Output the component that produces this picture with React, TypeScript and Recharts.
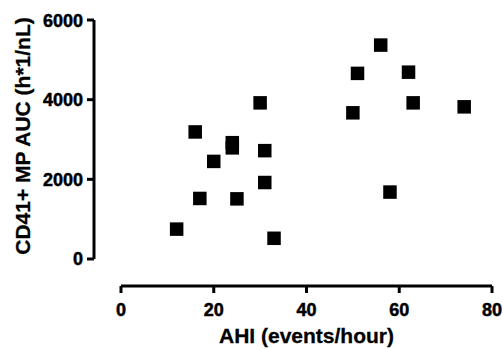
import { ScatterChart, Scatter, XAxis, YAxis, ReferenceLine, Label } from 'recharts';

// AHI (events/hour) vs CD41+ MP AUC
const ahi = [12, 16, 17, 20, 24, 24, 25, 30, 31, 31, 33, 50, 51, 56, 58, 62, 63, 74];
const auc = [750, 3190, 1520, 2450, 2920, 2790, 1510, 3920, 2720, 1920, 520, 3670, 4660, 5370, 1680, 4690, 3920, 3820];

const xTicks = [0, 20, 40, 60, 80];
const yTicks = [0, 2000, 4000, 6000];

// offset axes (Prism style): domain starts a bit below zero
const xMin = -5.82;
const yMin = -678;

const data = ahi.map((x, i) => ({ x, y: auc[i] }));

const font = '"Liberation Sans", Arial, Helvetica, sans-serif';
const SW = 3;
const SQ = 13.5;

const XTick = (props: any) => {
  const { x, y, payload } = props;
  return (
    <g>
      <line x1={x} y1={y} x2={x} y2={y + 7} stroke="#000" strokeWidth={SW} />
      <text x={x} y={y + 30} textAnchor="middle" fontSize={18} fontWeight={700} fontFamily={font}
        fill="#000" stroke="#000" strokeWidth={0.5}>
        {payload.value}
      </text>
    </g>
  );
};

const YTick = (props: any) => {
  const { x, y, payload } = props;
  return (
    <g>
      <line x1={x - 7} y1={y} x2={x} y2={y} stroke="#000" strokeWidth={SW} />
      <text x={x - 11} y={y + 6.5} textAnchor="end" fontSize={18} fontWeight={700} fontFamily={font}
        fill="#000" stroke="#000" strokeWidth={0.5}>
        {payload.value}
      </text>
    </g>
  );
};

const AxisLine = (props: any) => (
  <line x1={props.x1} y1={props.y1} x2={props.x2} y2={props.y2} stroke="#000" strokeWidth={SW} />
);

const Square = (props: any) => (
  <rect x={props.cx - SQ / 2} y={props.cy - SQ / 2} width={SQ} height={SQ} fill="#000" />
);

export default function App() {
  return (
    <div style={{ position: 'absolute', left: 0, top: 0 }}>
      <ScatterChart width={503} height={349} margin={{ top: 20, right: 11, bottom: 13, left: 34 }}>
        <XAxis
          type="number"
          dataKey="x"
          domain={[xMin, 80]}
          ticks={xTicks}
          axisLine={false}
          tickLine={false}
          tickSize={0}
          tickMargin={0}
          tick={<XTick />}
          height={50}
        >
          <Label
            content={() => (
              <text x={306.5} y={343} textAnchor="middle" fontSize={21} fontWeight={700} fontFamily={font}
                fill="#000" stroke="#000" strokeWidth={0.3}>
                AHI (events/hour)
              </text>
            )}
          />
        </XAxis>
        <YAxis
          type="number"
          dataKey="y"
          domain={[yMin, 6000]}
          ticks={yTicks}
          axisLine={false}
          tickLine={false}
          tickSize={0}
          tickMargin={0}
          tick={<YTick />}
          width={60}
        >
          <Label
            content={() => (
              <text
                x={30}
                y={136}
                transform="rotate(-90, 30, 136)"
                textAnchor="middle"
                fontSize={21}
                fontWeight={700}
                fontFamily={font}
                fill="#000"
                stroke="#000"
                strokeWidth={0.3}
              >
                CD41+ MP AUC (h*1/nL)
              </text>
            )}
          />
        </YAxis>
        <ReferenceLine segment={[{ x: 0, y: yMin }, { x: 80, y: yMin }]} shape={AxisLine} />
        <ReferenceLine segment={[{ x: xMin, y: 0 }, { x: xMin, y: 6000 }]} shape={AxisLine} />
        <Scatter data={data} shape={Square} fill="#000" isAnimationActive={false} />
      </ScatterChart>
    </div>
  );
}
